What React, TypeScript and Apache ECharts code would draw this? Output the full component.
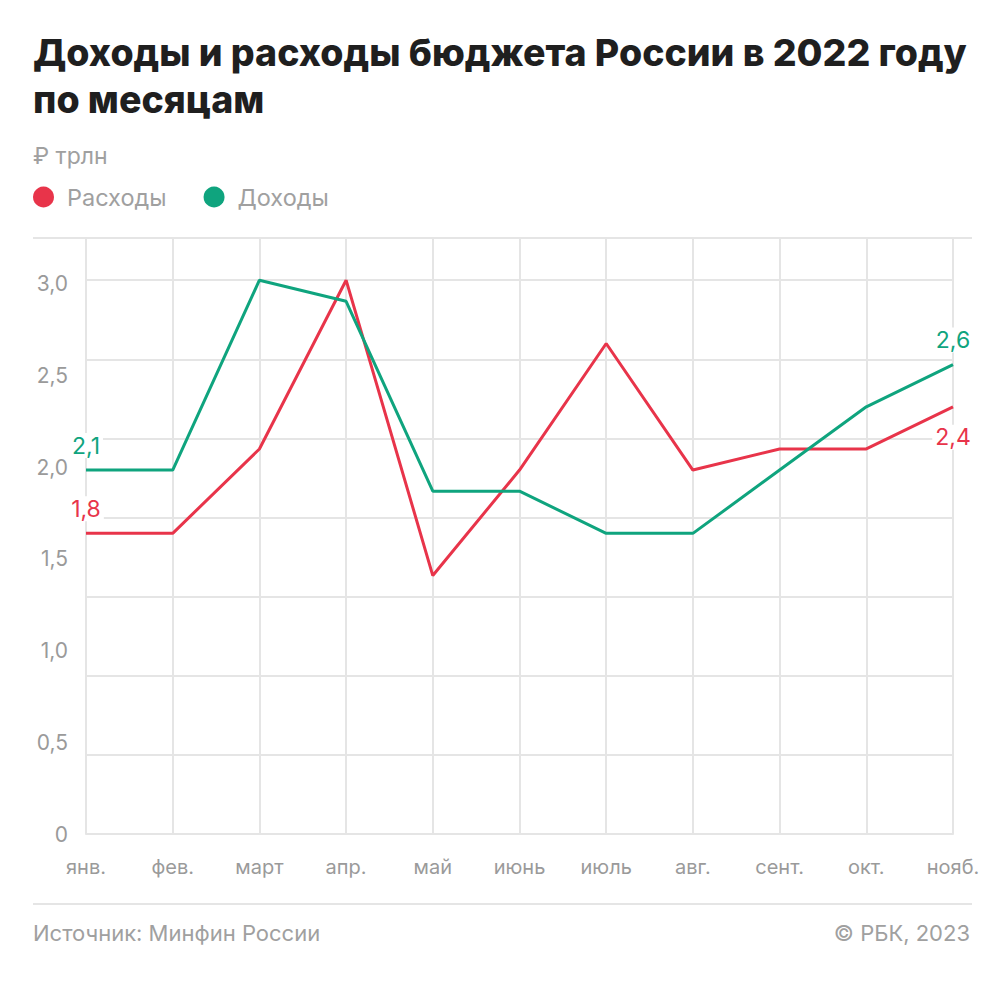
import React, { useEffect, useRef } from "react";
import * as echarts from "echarts";

const months = ["янв.", "фев.", "март", "апр.", "май", "июнь", "июль", "авг.", "сент.", "окт.", "нояб."];
const expenses = [1.8, 1.8, 2.2, 3.0, 1.6, 2.1, 2.7, 2.1, 2.2, 2.2, 2.4];
const revenues = [2.1, 2.1, 3.0, 2.9, 2.0, 2.0, 1.8, 1.8, 2.1, 2.4, 2.6];
const yTickLabels = ["0", "0,5", "1,0", "1,5", "2,0", "2,5", "3,0"];
const seriesNames = ["Расходы", "Доходы"];

const RED = "#E8344A";
const GREEN = "#0FA47E";
const GREY = "#9a9a9a";
const GRID = "#e5e5e5";
const FONT = "Inter, Roboto, sans-serif";

function fmt(v: number) {
  return v.toFixed(1).replace(".", ",");
}

function buildData(values: number[], color: string, lastPos: string, lastDist: number) {
  return values.map((v, i) => {
    const edge = i === 0 || i === values.length - 1;
    return {
      value: v,
      label: {
        show: edge,
        position: i === values.length - 1 ? lastPos : "top",
        distance: i === values.length - 1 ? lastDist : 12,
        formatter: fmt(v),
        color,
        fontSize: 23,
        fontFamily: FONT,
        backgroundColor: "#ffffff",
        padding: [1, 3],
      },
    };
  });
}

export default function App() {
  const ref = useRef<HTMLDivElement>(null);
  useEffect(() => {
    const chart = echarts.init(ref.current!, null, { renderer: "svg" });
    chart.setOption({
      animation: false,
      backgroundColor: "#ffffff",
      textStyle: { fontFamily: FONT },
      grid: { left: 86, right: 52, top: 238, bottom: 148, outerBoundsMode: "none" },
      legend: {
        data: seriesNames,
        left: 33,
        top: 185,
        padding: 0,
        icon: "circle",
        itemWidth: 21,
        itemHeight: 21,
        itemGap: 37,
        textStyle: { fontSize: 23.5, color: "#a0a0a0", fontFamily: FONT, padding: [0, 0, 0, 8] },
      },
      xAxis: {
        type: "category",
        data: months,
        boundaryGap: false,
        axisLine: { show: true, lineStyle: { color: GRID, width: 2 } },
        axisTick: { show: false },
        splitLine: { show: true, lineStyle: { color: GRID, width: 2 } },
        axisLabel: { color: GREY, fontSize: 20, margin: 23, fontFamily: FONT },
      },
      yAxis: [
        {
          type: "value",
          min: 0.375,
          max: 3.2,
          interval: 0.375,
          axisLabel: { show: false },
          axisLine: { show: false },
          axisTick: { show: false },
          splitLine: { show: true, lineStyle: { color: GRID, width: 2 } },
        },
        {
          type: "value",
          position: "left",
          min: 0,
          max: 3.25,
          interval: 0.5,
          axisLine: { show: false },
          axisTick: { show: false },
          splitLine: { show: false },
          axisLabel: {
            showMaxLabel: false,
            color: GREY,
            fontSize: 21,
            margin: 18,
            fontFamily: FONT,
            formatter: (v: number) => {
              const idx = Math.round(v / 0.5);
              return Math.abs(v - idx * 0.5) < 1e-6 ? yTickLabels[idx] ?? "" : "";
            },
          },
        },
      ],
      series: [
        {
          name: seriesNames[0],
          type: "line",
          yAxisIndex: 0,
          data: buildData(expenses, RED, "bottom", 18),
          showSymbol: true,
          symbolSize: 0,
          lineStyle: { color: RED, width: 3 },
          itemStyle: { color: RED },
          z: 3,
        },
        {
          name: seriesNames[1],
          type: "line",
          yAxisIndex: 0,
          data: buildData(revenues, GREEN, "top", 12),
          showSymbol: true,
          symbolSize: 0,
          lineStyle: { color: GREEN, width: 3 },
          itemStyle: { color: GREEN },
          z: 4,
        },
      ],
      graphic: [
        {
          type: "text",
          left: 33,
          top: 29,
          style: {
            text: "Доходы и расходы бюджета России в 2022 году\nпо месяцам",
            fontSize: 37.5,
            fontWeight: 800,
            lineHeight: 47,
            fill: "#1f1f1f",
            fontFamily: FONT,
          },
        },
        {
          type: "text",
          left: 33,
          top: 144,
          style: { text: "₽ трлн", fontSize: 23, fill: "#a0a0a0", fontFamily: FONT },
        },
        {
          type: "line",
          shape: { x1: 33, y1: 238, x2: 972, y2: 238 },
          style: { stroke: GRID, lineWidth: 2 },
        },
        {
          type: "line",
          shape: { x1: 33, y1: 904, x2: 972, y2: 904 },
          style: { stroke: GRID, lineWidth: 2 },
        },
        {
          type: "text",
          left: 33,
          top: 922,
          style: { text: "Источник: Минфин России", fontSize: 22, fill: "#a0a0a0", fontFamily: FONT },
        },
        {
          type: "text",
          right: 35,
          top: 922,
          style: { text: "© РБК, 2023", fontSize: 22, fill: "#a0a0a0", fontFamily: FONT },
        },
      ],
    });
    return () => chart.dispose();
  }, []);
  return (
    <div
      ref={ref}
      style={{ position: "fixed", left: 0, top: 0, width: 1005, height: 982, background: "#fff" }}
    />
  );
}
